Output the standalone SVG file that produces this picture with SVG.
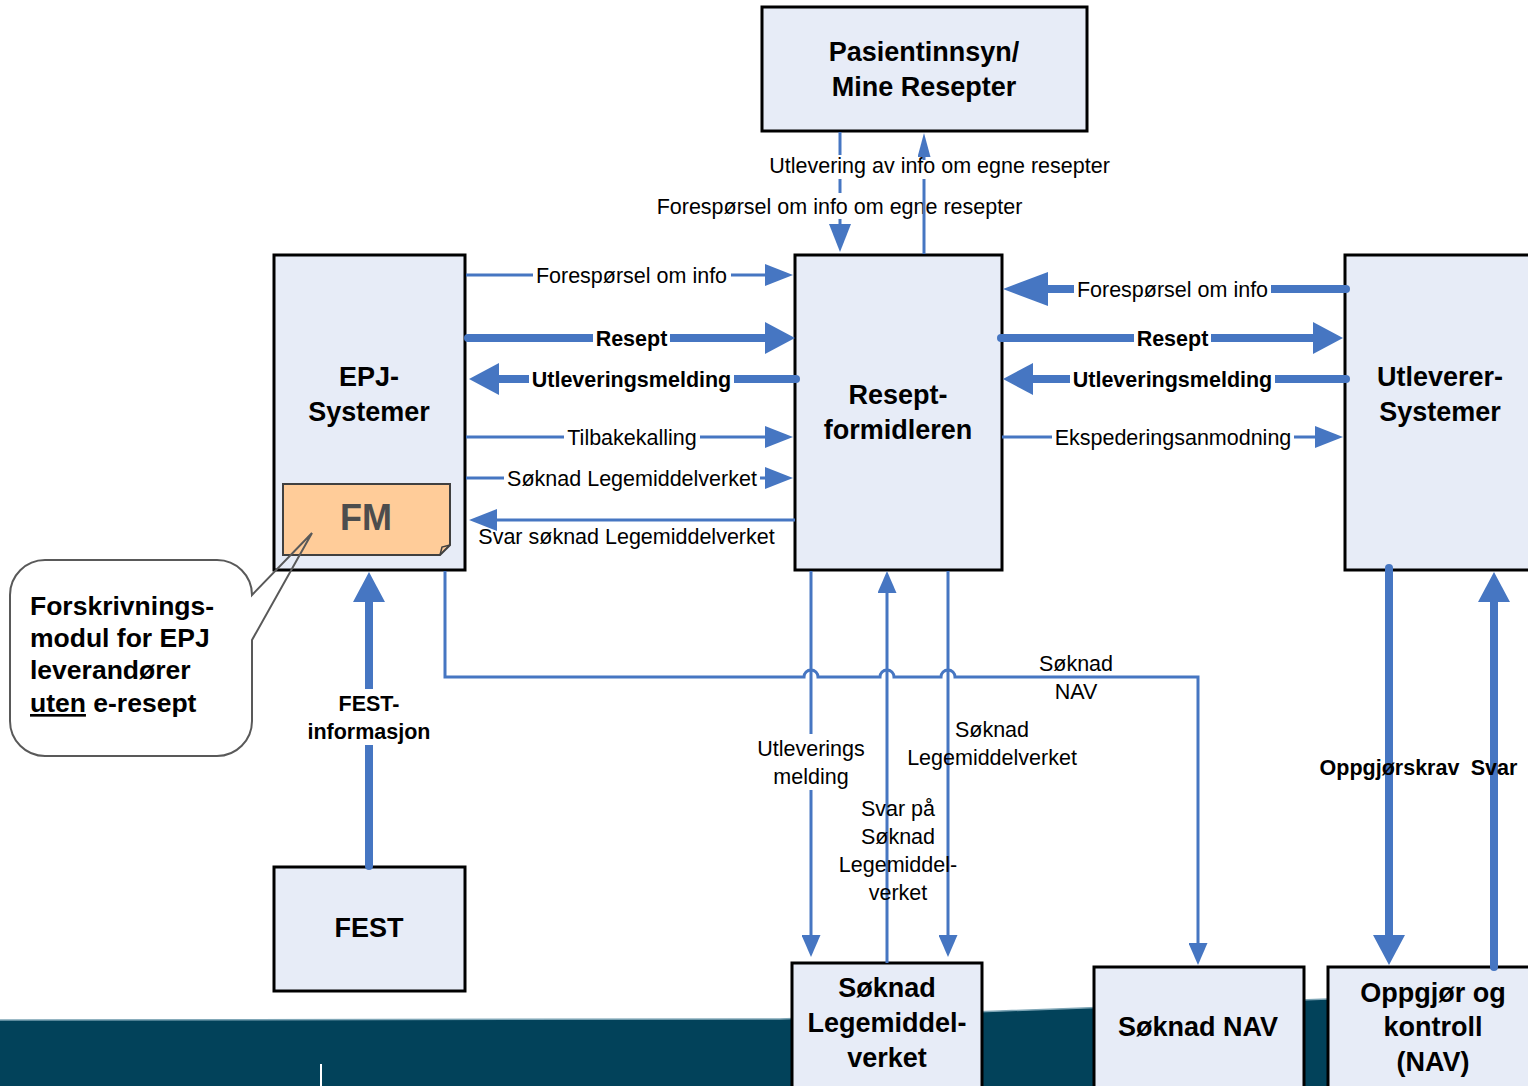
<svg xmlns="http://www.w3.org/2000/svg" width="1528" height="1086" viewBox="0 0 1528 1086">
<defs>
<style>
.box{fill:#E7ECF7;stroke:#000;stroke-width:3}
.nt{font-family:"Liberation Sans",Arial,sans-serif;font-weight:bold;font-size:27px;text-anchor:middle;fill:#000}
.lb{font-family:"Liberation Sans",Arial,sans-serif;font-size:21.5px;text-anchor:middle;fill:#000}
.lbb{font-family:"Liberation Sans",Arial,sans-serif;font-size:21.5px;font-weight:bold;text-anchor:middle;fill:#000}
.co{font-family:"Liberation Sans",Arial,sans-serif;font-weight:bold;font-size:26.5px;fill:#000}
.bg{fill:#fff}
.thin{stroke:#4676C2;stroke-width:3;fill:none}
.thick{stroke:#4676C2;stroke-width:8;fill:none;stroke-linecap:round}
</style>
<marker id="ah" markerUnits="userSpaceOnUse" markerWidth="28" markerHeight="22" viewBox="0 0 28 22" refX="0" refY="11" orient="auto"><path d="M0,0 L28,11 L0,22 Z" fill="#4676C2"/></marker>
<marker id="ahn" markerUnits="userSpaceOnUse" markerWidth="24" markerHeight="13" viewBox="0 0 24 13" refX="0" refY="6.5" orient="auto"><path d="M0,0 L24,6.5 L0,13 Z" fill="#4676C2"/></marker>
<marker id="ahs" markerUnits="userSpaceOnUse" markerWidth="22" markerHeight="19" viewBox="0 0 22 19" refX="0" refY="9.5" orient="auto"><path d="M0,0 L22,9.5 L0,19 Z" fill="#4676C2"/></marker>
<marker id="aht" markerUnits="userSpaceOnUse" markerWidth="30" markerHeight="32" viewBox="0 0 30 32" refX="0" refY="16" orient="auto"><path d="M0,0 L30,16 L0,32 Z" fill="#4676C2"/></marker>
<marker id="ahb" markerUnits="userSpaceOnUse" markerWidth="45" markerHeight="34" viewBox="0 0 45 34" refX="0" refY="17" orient="auto"><path d="M0,0 L45,17 L0,34 Z" fill="#4676C2"/></marker>
</defs>
<rect width="1528" height="1086" fill="#fff"/>
<g id="band">
<path d="M0,1020 L780,1019 L1000,1011 L1300,1000 L1528,992 L1528,1086 L0,1086 Z" fill="#02425A"/>
<path d="M0,1020 L780,1019 L1000,1011 L1300,1000 L1528,992" fill="none" stroke="#7fa6b6" stroke-width="1.5"/>
<line x1="321" y1="1064" x2="321" y2="1086" stroke="#fff" stroke-width="2"/>
</g>
<g id="node-pasientinnsyn">
<rect class="box" x="762" y="7" width="325" height="124"/>
<text class="nt" x="924" y="61">Pasientinnsyn/</text>
<text class="nt" x="924" y="96">Mine Resepter</text>
</g>
<g id="node-epj">
<rect class="box" x="274" y="255" width="191" height="315"/>
<text class="nt" x="369" y="386">EPJ-</text>
<text class="nt" x="369" y="421">Systemer</text>
</g>
<g id="node-fm">
<path d="M283,484 H450 V545 L440,555 H283 Z" fill="#FFCC99" stroke="#404040" stroke-width="2"/>
<path d="M440,555 L442,547 L450,545" fill="none" stroke="#404040" stroke-width="1.5"/>
<text x="366" y="530" font-family="'Liberation Sans',Arial,sans-serif" font-weight="bold" font-size="36" text-anchor="middle" fill="#4d4d4d">FM</text>
</g>
<g id="node-callout">
<path d="M45,560 H217 A35,35 0 0 1 252,595 L312,533 L252,640 V721 A35,35 0 0 1 217,756 H45 A35,35 0 0 1 10,721 V595 A35,35 0 0 1 45,560 Z" fill="none" stroke="#595959" stroke-width="2"/>
<text class="co" x="30" y="615">Forskrivnings-</text>
<text class="co" x="30" y="647">modul for EPJ</text>
<text class="co" x="30" y="679" font-size="22">leverandører</text>
<text class="co" x="30" y="712"><tspan text-decoration="underline">uten</tspan> e-resept</text>
</g>
<g id="node-reseptformidleren">
<rect class="box" x="795" y="255" width="207" height="315"/>
<text class="nt" x="898" y="404">Resept-</text>
<text class="nt" x="898" y="439">formidleren</text>
</g>
<g id="node-utleverer">
<rect class="box" x="1345" y="255" width="200" height="315"/>
<text class="nt" x="1440" y="386">Utleverer-</text>
<text class="nt" x="1440" y="421">Systemer</text>
</g>
<g id="node-fest">
<rect class="box" x="274" y="867" width="191" height="124"/>
<text class="nt" x="369" y="937">FEST</text>
</g>
<g id="node-soknad-lmv">
<rect class="box" x="792" y="963" width="190" height="140"/>
<text class="nt" x="887" y="997">Søknad</text>
<text class="nt" x="887" y="1032">Legemiddel-</text>
<text class="nt" x="887" y="1067">verket</text>
</g>
<g id="node-soknad-nav">
<rect class="box" x="1094" y="967" width="210" height="140"/>
<text class="nt" x="1198" y="1036">Søknad NAV</text>
</g>
<g id="node-oppgjor">
<rect class="box" x="1328" y="967" width="215" height="140"/>
<text class="nt" x="1433" y="1002">Oppgjør og</text>
<text class="nt" x="1433" y="1036">kontroll</text>
<text class="nt" x="1433" y="1071">(NAV)</text>
</g>
<g id="connectors">
<!-- top -->
<line class="thin" x1="840" y1="132" x2="840" y2="224" marker-end="url(#ah)"/>
<rect class="bg" x="653" y="193" width="374" height="26"/>
<text class="lb" x="839.5" y="213.5">Forespørsel om info om egne resepter</text>
<line class="thin" x1="924" y1="254" x2="924" y2="163"/>
<rect class="bg" x="765" y="155" width="350" height="24"/>
<text class="lb" x="939.5" y="172.5">Utlevering av info om egne resepter</text>
<line class="thin" x1="924" y1="160" x2="924" y2="157" marker-end="url(#ahn)"/>
<!-- left middle -->
<line class="thin" x1="466" y1="275" x2="765" y2="275" marker-end="url(#ah)"/>
<rect class="bg" x="533" y="262" width="198" height="26"/>
<text class="lb" x="631.5" y="282.5">Forespørsel om info</text>
<line class="thick" x1="468" y1="338" x2="765" y2="338" marker-end="url(#aht)"/>
<rect class="bg" x="593" y="325" width="77" height="26"/>
<text class="lbb" x="631.5" y="345.5">Resept</text>
<line class="thick" x1="796" y1="379" x2="499" y2="379" marker-end="url(#aht)"/>
<rect class="bg" x="529" y="366" width="205" height="26"/>
<text class="lbb" x="631.5" y="386.5">Utleveringsmelding</text>
<line class="thin" x1="466" y1="437" x2="765" y2="437" marker-end="url(#ah)"/>
<rect class="bg" x="564" y="424" width="136" height="26"/>
<text class="lb" x="632" y="444.5">Tilbakekalling</text>
<line class="thin" x1="466" y1="478" x2="765" y2="478" marker-end="url(#ah)"/>
<rect class="bg" x="504" y="465" width="256" height="26"/>
<text class="lb" x="632" y="485.5">Søknad Legemiddelverket</text>
<line class="thin" x1="795" y1="520" x2="497" y2="520" marker-end="url(#ah)"/>
<text class="lb" x="626.5" y="544">Svar søknad Legemiddelverket</text>
<!-- right middle -->
<line class="thick" x1="1346" y1="289" x2="1048" y2="289" marker-end="url(#ahb)"/>
<rect class="bg" x="1074" y="276" width="197" height="26"/>
<text class="lb" x="1172.5" y="296.5">Forespørsel om info</text>
<line class="thick" x1="1001" y1="338" x2="1313" y2="338" marker-end="url(#aht)"/>
<rect class="bg" x="1134" y="325" width="77" height="26"/>
<text class="lbb" x="1172.5" y="345.5">Resept</text>
<line class="thick" x1="1346" y1="379" x2="1033" y2="379" marker-end="url(#aht)"/>
<rect class="bg" x="1070" y="366" width="205" height="26"/>
<text class="lbb" x="1172.5" y="386.5">Utleveringsmelding</text>
<line class="thin" x1="1002" y1="437" x2="1315" y2="437" marker-end="url(#ah)"/>
<rect class="bg" x="1052" y="424" width="242" height="26"/>
<text class="lb" x="1173" y="444.5">Ekspederingsanmodning</text>
<!-- bottom lines -->
<path class="thin" d="M445,571 V677 H804 A7,7 0 0 1 818,677 H880 A7,7 0 0 1 894,677 H941 A7,7 0 0 1 955,677 H1198 V943" marker-end="url(#ahs)"/>
<line class="thin" x1="811" y1="571" x2="811" y2="935" marker-end="url(#ahs)"/>
<rect class="bg" x="754" y="734" width="114" height="56"/>
<text class="lb" x="811" y="755.5">Utleverings</text>
<text class="lb" x="811" y="783.5">melding</text>
<line class="thin" x1="887" y1="963" x2="887" y2="593" marker-end="url(#ahs)"/>
<line class="thin" x1="948" y1="571" x2="948" y2="935" marker-end="url(#ahs)"/>
<line class="thick" x1="369" y1="866" x2="369" y2="602" marker-end="url(#aht)"/>
<rect class="bg" x="303" y="689" width="132" height="56"/>
<text class="lbb" x="369" y="710.5">FEST-</text>
<text class="lbb" x="369" y="738.5">informasjon</text>
<line class="thick" x1="1389" y1="568" x2="1389" y2="935" marker-end="url(#aht)"/>
<line class="thick" x1="1494" y1="967" x2="1494" y2="602" marker-end="url(#aht)"/>
<!-- labels drawn over lines -->
<text class="lb" x="1076" y="670.5">Søknad</text>
<text class="lb" x="1076" y="698.5">NAV</text>
<text class="lb" x="992" y="736.5">Søknad</text>
<text class="lb" x="992" y="764.5">Legemiddelverket</text>
<text class="lb" x="898" y="815.5">Svar på</text>
<text class="lb" x="898" y="843.5">Søknad</text>
<text class="lb" x="898" y="871.5">Legemiddel-</text>
<text class="lb" x="898" y="899.5">verket</text>
<text class="lbb" x="1389.5" y="774.5">Oppgjørskrav</text>
<text class="lbb" x="1494" y="774.5">Svar</text>
</g>
</svg>
